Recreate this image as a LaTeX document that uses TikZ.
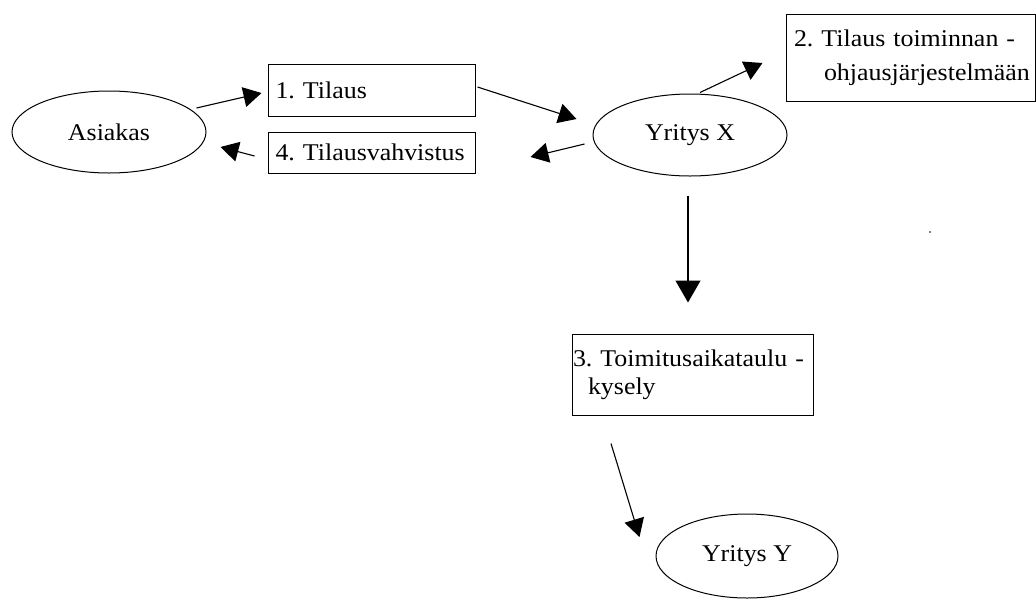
\documentclass[tikz,border=0pt]{standalone}
\usepackage{fontspec}
\setmainfont{Liberation Serif}[FakeStretch=1.08]
\usetikzlibrary{shapes.geometric,arrows.meta}
\frenchspacing
\begin{document}
\begin{tikzpicture}[x=1pt,y=-1pt,
  every node/.style={font=\rmfamily\fontsize{24}{28}\selectfont},
  party/.style={draw,ellipse,line width=1pt,inner sep=0pt},
  stagebox/.style={draw,rectangle,line width=1pt,inner sep=0pt,align=left,anchor=center},
  flow/.style={line width=1.1pt,-{Triangle[length=18pt,width=20pt]}},
  bigflow/.style={line width=1.1pt,-{Triangle[length=22pt,width=25pt]}}]
\useasboundingbox (0,0) rectangle (1036,606);

% parties
\node[party,minimum width=194,minimum height=82] (asiakas) at (109,132) {Asiakas};
\node[party,minimum width=194,minimum height=82] (yx) at (690,135) {Yritys X};
\node[party,minimum width=182,minimum height=84] (yy) at (747,556) {Yritys Y};

% numbered steps
\node[stagebox,minimum width=207,minimum height=52,text width=192] (tilaus) at (371.5,90) {1. Tilaus};
\node[stagebox,minimum width=207,minimum height=41,text width=192] (vahv) at (371.5,152.5) {4. Tilausvahvistus};
\node[stagebox,minimum width=249,minimum height=87,text width=233,
      font=\rmfamily\fontsize{24}{34}\selectfont] (ohjaus) at (910.5,57.5)
  {\mbox{2. Tilaus toiminnan -}\\\hspace*{30pt}\mbox{ohjausjärjestelmään}};
\node[stagebox,minimum width=241,minimum height=81,text width=239] (kysely) at (692.5,374.5)
  {\mbox{3. Toimitusaikataulu -}\\\hspace*{15pt}kysely};

% message flow
\draw[flow] ([shift={(-10,-24)}]asiakas.east) -- ([shift={(-6,3)}]tilaus.west);
\draw[flow] ([shift={(2,-3)}]tilaus.east) -- ([shift={(-16,-16)}]yx.west);
\draw[flow] ([shift={(-8,9)}]yx.west) -- ([shift={(55,4.5)}]vahv.east);
\draw[flow] ([shift={(-13,3.5)}]vahv.west) -- ([shift={(14,15)}]asiakas.east);
\draw[flow] ([shift={(10,-1)}]yx.north) -- ([shift={(-23,5.5)}]ohjaus.west);
\draw[bigflow] ([shift={(-2,19)}]yx.south) -- ([shift={(-4.5,-31)}]kysely.north);
\draw[flow] ([shift={(-81.5,28)}]kysely.south) -- ([shift={(-16,-19)}]yy.west);

% stray mark
\fill[gray] (929,231) rectangle (931,233);
\end{tikzpicture}
\end{document}
